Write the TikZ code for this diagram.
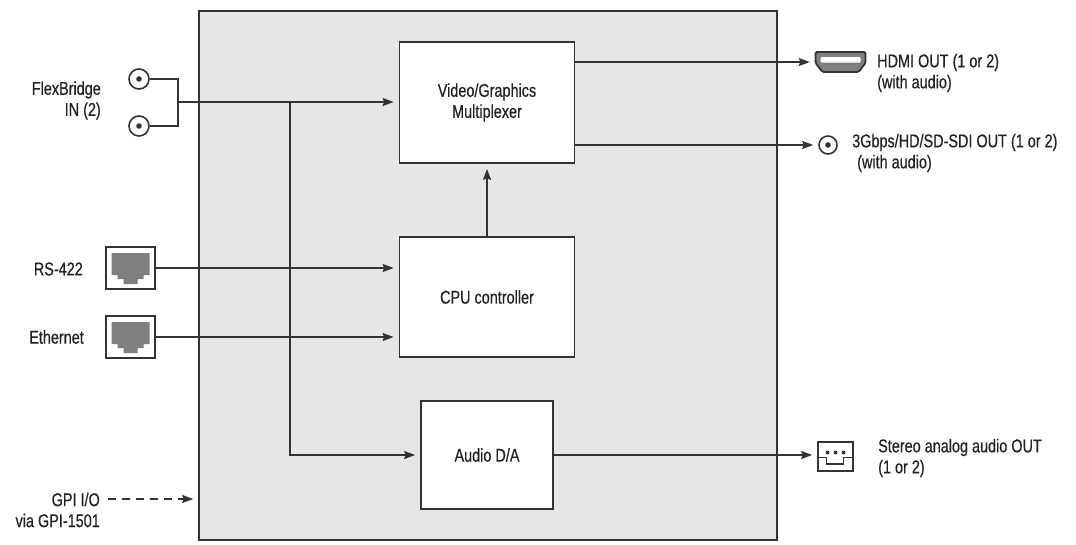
\documentclass[tikz,border=0pt]{standalone}
\usepackage{fontspec}
\setmainfont[FakeStretch=0.78,FakeBold=0.4]{Liberation Sans}
\usetikzlibrary{arrows.meta,calc}
\definecolor{ln}{HTML}{333333}
\definecolor{tx}{HTML}{222222}
\definecolor{chas}{HTML}{E6E6E6}
\definecolor{icon}{HTML}{7F7F7F}
\tikzset{
  wire/.style={draw=ln, line width=1.7pt},
  arr/.style={wire, -{Stealth[length=11pt,width=8pt,inset=1.5pt]}, shorten >=5pt},
  blk/.style={draw=ln, line width=1.7pt, fill=white, text=tx, align=center, font=\fontsize{18.5}{21}\selectfont},
  lbl/.style={text=tx, inner sep=0pt, font=\fontsize{18.5}{21}\selectfont},
  iconbox/.style={draw=ln, line width=1.6pt, fill=white, inner sep=0pt},
  rjpic/.pic={\fill[icon] (-19,-15) -- (19,-15) -- (19,7) -- (13,7) -- (13,11) -- (7,11) -- (7,16) -- (-7,16) -- (-7,11) -- (-13,11) -- (-13,7) -- (-19,7) -- cycle;},
  bncdot/.pic={\fill[ln] (0,0) circle (2.8);}
}
\begin{document}
\begin{tikzpicture}[x=1pt,y=-1pt]
\useasboundingbox[fill=white] (0,0) rectangle (1076,544);
% chassis
\node[draw=ln, line width=1.7pt, fill=chas, minimum width=578pt, minimum height=529pt, inner sep=0pt] (chassis) at (488,275.5) {};
% blocks
\node[blk, minimum width=175pt, minimum height=121pt] (video) at (487,102.5) {Video/Graphics\\Multiplexer};
\node[blk, minimum width=175pt, minimum height=120pt] (cpu) at (487,297) {CPU controller};
\node[blk, minimum width=132pt, minimum height=108pt] (audio) at (487,455) {Audio D/A};
% left connectors
\node[iconbox, circle, minimum size=20pt] (bnc1) at (139,79) {};
\node[iconbox, circle, minimum size=20pt] (bnc2) at (139,126) {};
\pic at (bnc1.center) {bncdot};
\pic at (bnc2.center) {bncdot};
\node[iconbox, minimum width=49pt, minimum height=42pt] (rs) at (130.5,268) {};
\node[iconbox, minimum width=49pt, minimum height=42pt] (eth) at (130.5,337) {};
\pic at (rs.center) {rjpic};
\pic at (eth.center) {rjpic};
% right connectors
\node[inner sep=0pt, minimum width=51pt, minimum height=21pt] (hdmi) at (840.5,62) {};
\filldraw[fill=icon, draw=ln, line width=1.8pt, rounded corners=1.5pt]
  ($(hdmi.center)+(-25,-10)$) -- ($(hdmi.center)+(25,-10)$) -- ($(hdmi.center)+(25,1)$) -- ($(hdmi.center)+(18,10)$) -- ($(hdmi.center)+(-18,10)$) -- ($(hdmi.center)+(-25,1)$) -- cycle;
\fill[white, rounded corners=1pt] ($(hdmi.center)+(-20,-5)$) rectangle ($(hdmi.center)+(20,0.5)$);
\node[iconbox, circle, minimum size=18pt] (sdi) at (828,145) {};
\pic at (sdi.center) {bncdot};
\node[iconbox, minimum width=35pt, minimum height=29pt] (aout) at (835.5,456.5) {};
\draw[ln, line width=1.5pt] ($(aout.center)+(-17.5,1)$) -- ($(aout.center)+(-9,1)$) -- ($(aout.center)+(-9,7.5)$) -- ($(aout.center)+(8,7.5)$) -- ($(aout.center)+(8,1)$) -- ($(aout.center)+(17.5,1)$);
\foreach \dx in {-8,0,8} \fill[ln] ($(aout.center)+(\dx,-4)$) circle (2);
% labels
\node[lbl, align=right, anchor=east] (lflex) at (101,100.5) {FlexBridge\\IN (2)};
\node[lbl, anchor=east] (lrs) at (83,269) {RS-422};
\node[lbl, anchor=east] (leth) at (84,337) {Ethernet};
\node[lbl, align=right, anchor=east] (lgpi) at (100,510) {GPI I/O\\via GPI-1501};
\node[lbl, align=left, anchor=west] (lhdmi) at (877,73) {HDMI OUT (1 or 2)\\(with audio)};
\node[lbl, align=left, anchor=west] (lsdi) at (852,153) {3Gbps/HD/SD-SDI OUT (1 or 2)\\\hspace{5pt}(with audio)};
\node[lbl, align=left, anchor=west] (laud) at (878,458) {Stereo analog audio OUT\\(1 or 2)};
% wiring
\coordinate (jt) at (178,79);
\coordinate (jb) at (178,126);
\coordinate (jm) at (178,102);
\coordinate (br) at (290,102);
\draw[wire] (bnc1.east) -- (jt) -- (jb) -- (bnc2.east);
\draw[arr] (jm) -- (jm -| video.west);
\draw[arr] (br) |- (audio.west);
\draw[arr] (rs.east) -- (rs.east -| cpu.west);
\draw[arr] (eth.east) -- (eth.east -| cpu.west);
\draw[arr] (cpu.north) -- (video.south);
\draw[arr] (video.east |- hdmi.west) -- (hdmi.west);
\draw[arr] (video.east |- sdi.west) -- (sdi.west);
\draw[arr] (audio.east) -- (audio.east -| aout.west);
\coordinate (gs) at (108,499);
\draw[arr, dash pattern=on 8pt off 6pt] (gs) -- (gs -| chassis.west);
\end{tikzpicture}
\end{document}
